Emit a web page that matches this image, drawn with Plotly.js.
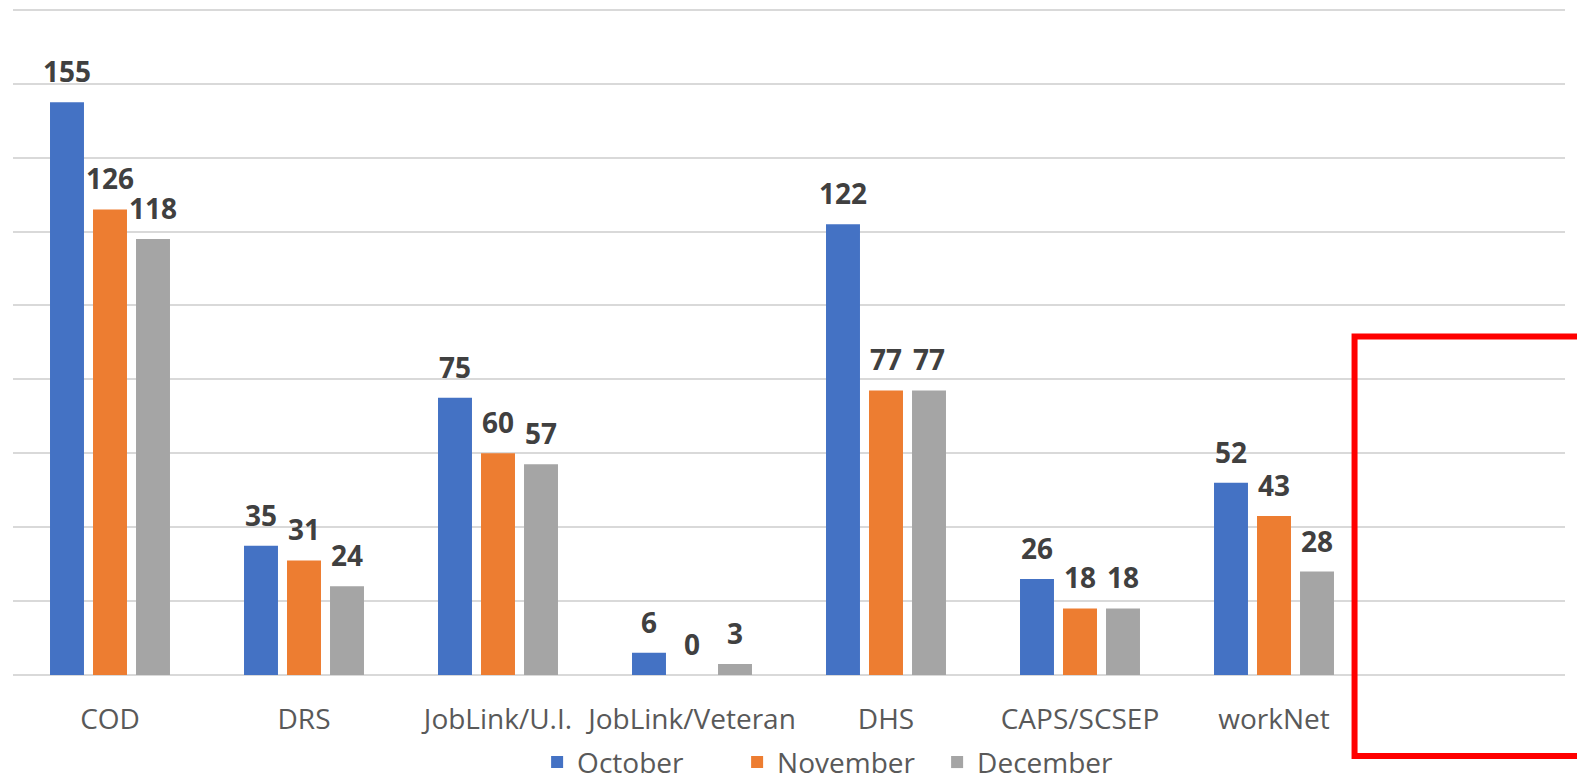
<!DOCTYPE html>
<html>
<head>
<meta charset="utf-8">
<script src="https://cdn.plot.ly/plotly-3.0.1.min.js"></script>
<style>html,body{margin:0;padding:0;background:#fff;}#chart{width:1577px;height:780px;}</style>
</head>
<body>
<div id="chart"></div>
<script>
const categories = ["COD", "DRS", "JobLink/U.I.", "JobLink/Veteran", "DHS", "CAPS/SCSEP", "workNet"];
const seriesNames = ["October", "November", "December"];
const october = [155, 35, 75, 6, 122, 26, 52];
const november = [126, 31, 60, 0, 77, 18, 43];
const december = [118, 24, 57, 3, 77, 18, 28];
const colors = ["#4472C4", "#ED7D31", "#A5A5A5"];

const series = [october, november, december];
const traces = series.map((vals, i) => ({
  type: "bar",
  name: seriesNames[i],
  x: categories,
  y: vals,
  marker: {color: colors[i]},
  hoverinfo: "x+y+name"
}));

const annotations = [];
const shifts = [-43, 0, 43];
series.forEach((vals, i) => {
  vals.forEach((v, j) => {
    annotations.push({
      x: categories[j], y: v, xref: "x", yref: "y",
      text: String(v), showarrow: false,
      yanchor: "bottom", xanchor: "center",
      xshift: shifts[i], yshift: 10,
      font: {family: "Open Sans, sans-serif", size: 28, color: "#404040", weight: "bold"}
    });
  });
});

const layout = {
  width: 1577, height: 780,
  margin: {l: 13, r: 12, t: 8, b: 105, autoexpand: false},
  paper_bgcolor: "#ffffff", plot_bgcolor: "#ffffff",
  barmode: "group",
  bargap: 0.335,
  bargroupgap: 0.21,
  font: {family: "Open Sans, sans-serif", size: 28, color: "#595959"},
  xaxis: {
    type: "category",
    range: [-0.5, 7.5],
    showgrid: false, zeroline: false, showline: false,
    ticks: "outside", ticklen: 19, tickcolor: "rgba(0,0,0,0)",
    tickfont: {family: "Open Sans, sans-serif", size: 28, color: "#595959"},
    automargin: false, fixedrange: true
  },
  yaxis: {
    range: [0, 180.5], dtick: 20,
    showticklabels: false,
    showgrid: true, gridcolor: "#D9D9D9", gridwidth: 2,
    zeroline: true, zerolinecolor: "#D9D9D9", zerolinewidth: 2,
    showline: false, automargin: false, fixedrange: true
  },
  showlegend: true,
  legend: {
    orientation: "h", x: 0.531, xanchor: "center", y: -0.131, yanchor: "middle",
    bgcolor: "rgba(0,0,0,0)",
    font: {family: "Open Sans, sans-serif", size: 28, color: "#595959"},
    entrywidth: 155, entrywidthmode: "pixels", itemclick: false, itemdoubleclick: false
  },
  annotations: annotations,
  shapes: [{
    type: "rect", xref: "paper", yref: "paper",
    x0: 0.8644, x1: 1.02, y0: -0.1216, y1: 0.5075,
    line: {color: "#FF0000", width: 6}, fillcolor: "rgba(0,0,0,0)"
  }]
};

Plotly.newPlot("chart", traces, layout, {displayModeBar: false, staticPlot: true});
</script>
</body>
</html>
